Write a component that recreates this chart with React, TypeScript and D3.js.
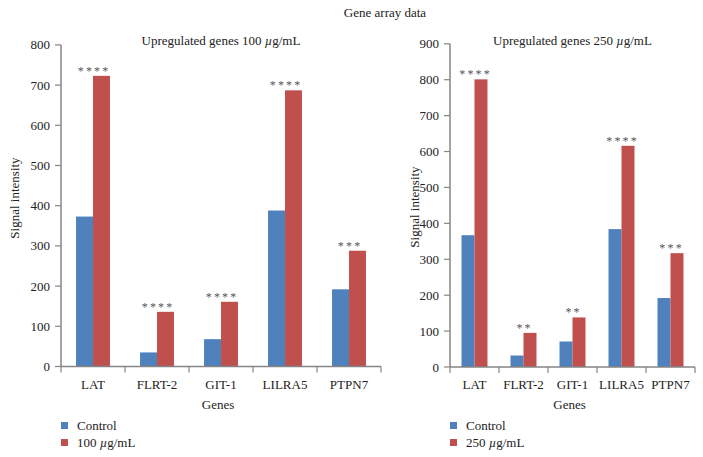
import React from "react";
import * as d3 from "d3";

const genes = ["LAT", "FLRT-2", "GIT-1", "LILRA5", "PTPN7"];
const control100 = [373, 35, 68, 388, 192];
const treated100 = [723, 136, 161, 687, 288];
const stars100 = ["****", "****", "****", "****", "***"];
const control250 = [367, 32, 71, 384, 192];
const treated250 = [801, 95, 138, 616, 317];
const stars250 = ["****", "**", "**", "****", "***"];
const ticks100 = [0, 100, 200, 300, 400, 500, 600, 700, 800];
const ticks250 = [0, 100, 200, 300, 400, 500, 600, 700, 800, 900];

const BLUE = "#4F81BD";
const RED = "#C0504D";
const AXIS = "#858585";
const FONT = "'Liberation Serif', 'DejaVu Serif', serif";
const FS = 13;

type PanelProps = {
  x0: number;
  x1: number;
  yTop: number;
  yBottom: number;
  yMax: number;
  ticks: number[];
  control: number[];
  treated: number[];
  stars: string[];
  title: string;
  dose: string;
  ylabelX: number;
  ylabelY: number;
};

function Panel(p: PanelProps) {
  const x = d3.scaleBand<string>().domain(genes).range([p.x0, p.x1]).paddingInner(0).paddingOuter(0);
  const y = d3.scaleLinear().domain([0, p.yMax]).range([p.yBottom, p.yTop]);
  const bw = x.bandwidth();
  const barW = bw * 0.265;
  const cx = (g: string) => (x(g) as number) + bw / 2;
  const mid = (p.x0 + p.x1) / 2;
  const boundaries = d3.range(genes.length + 1).map((i) => p.x0 + i * bw);
  const ls = 2.2;
  return (
    <g fontFamily={FONT}>
      <text x={mid} y={45} textAnchor="middle" fontSize={FS} fill="#222">
        {p.title.split("µ")[0]}
        <tspan fontStyle="italic">µ</tspan>
        {p.title.split("µ")[1]}
      </text>
      {genes.map((g, i) => (
        <g key={g}>
          <rect x={cx(g) - barW} y={y(p.control[i])} width={barW} height={p.yBottom - y(p.control[i])} fill={BLUE} />
          <rect x={cx(g)} y={y(p.treated[i])} width={barW} height={p.yBottom - y(p.treated[i])} fill={RED} />
          <text
            x={cx(g) + ls / 2}
            y={y(p.treated[i]) - 1}
            textAnchor="middle"
            fontSize={12}
            fill="#555"
            letterSpacing={ls}
          >
            {p.stars[i]}
          </text>
        </g>
      ))}
      <line x1={p.x0} x2={p.x0} y1={p.yTop} y2={p.yBottom} stroke={AXIS} strokeWidth={1.5} />
      <line x1={p.x0} x2={p.x1} y1={p.yBottom} y2={p.yBottom} stroke={AXIS} strokeWidth={1.5} />
      {p.ticks.map((t) => (
        <g key={t}>
          <line x1={p.x0 - 6} x2={p.x0} y1={y(t)} y2={y(t)} stroke={AXIS} strokeWidth={1.2} />
          <text x={p.x0 - 11} y={y(t) + 4.5} textAnchor="end" fontSize={FS} fill="#222">
            {t}
          </text>
        </g>
      ))}
      {boundaries.map((b, i) => (
        <line key={i} x1={b} x2={b} y1={p.yBottom} y2={p.yBottom + 6} stroke={AXIS} strokeWidth={1.2} />
      ))}
      {genes.map((g) => (
        <text key={g} x={cx(g)} y={p.yBottom + 22} textAnchor="middle" fontSize={FS} fill="#222">
          {g}
        </text>
      ))}
      <text x={mid - 3} y={p.yBottom + 42} textAnchor="middle" fontSize={FS} fill="#222">
        Genes
      </text>
      <text
        transform={`translate(${p.ylabelX},${p.ylabelY}) rotate(-90)`}
        textAnchor="middle"
        fontSize={FS}
        fill="#222"
      >
        Signal intensity
      </text>
      <rect x={p.x0} y={422} width={7} height={7} fill={BLUE} />
      <text x={p.x0 + 16} y={430} fontSize={FS} fill="#222">Control</text>
      <rect x={p.x0} y={439} width={7} height={7} fill={RED} />
      <text x={p.x0 + 16} y={447} fontSize={FS} fill="#222">
        {p.dose.split("µ")[0]}
        <tspan fontStyle="italic">µ</tspan>
        {p.dose.split("µ")[1]}
      </text>
    </g>
  );
}

export default function App() {
  return (
    <div style={{ position: "absolute", left: 0, top: 0 }}>
      <svg width={703} height={457} style={{ display: "block", background: "#fff" }}>
        <text x={385} y={17} textAnchor="middle" fontSize={FS} fontFamily={FONT} fill="#222">
          Gene array data
        </text>
        <Panel
          x0={61}
          x1={381}
          yTop={44.9}
          yBottom={366.5}
          yMax={800}
          ticks={ticks100}
          control={control100}
          treated={treated100}
          stars={stars100}
          title="Upregulated genes 100 µg/mL"
          dose="100 µg/mL"
          ylabelX={19}
          ylabelY={198}
        />
        <Panel
          x0={450}
          x1={695}
          yTop={43.8}
          yBottom={367}
          yMax={900}
          ticks={ticks250}
          control={control250}
          treated={treated250}
          stars={stars250}
          title="Upregulated genes 250 µg/mL"
          dose="250 µg/mL"
          ylabelX={419}
          ylabelY={207}
        />
      </svg>
    </div>
  );
}
